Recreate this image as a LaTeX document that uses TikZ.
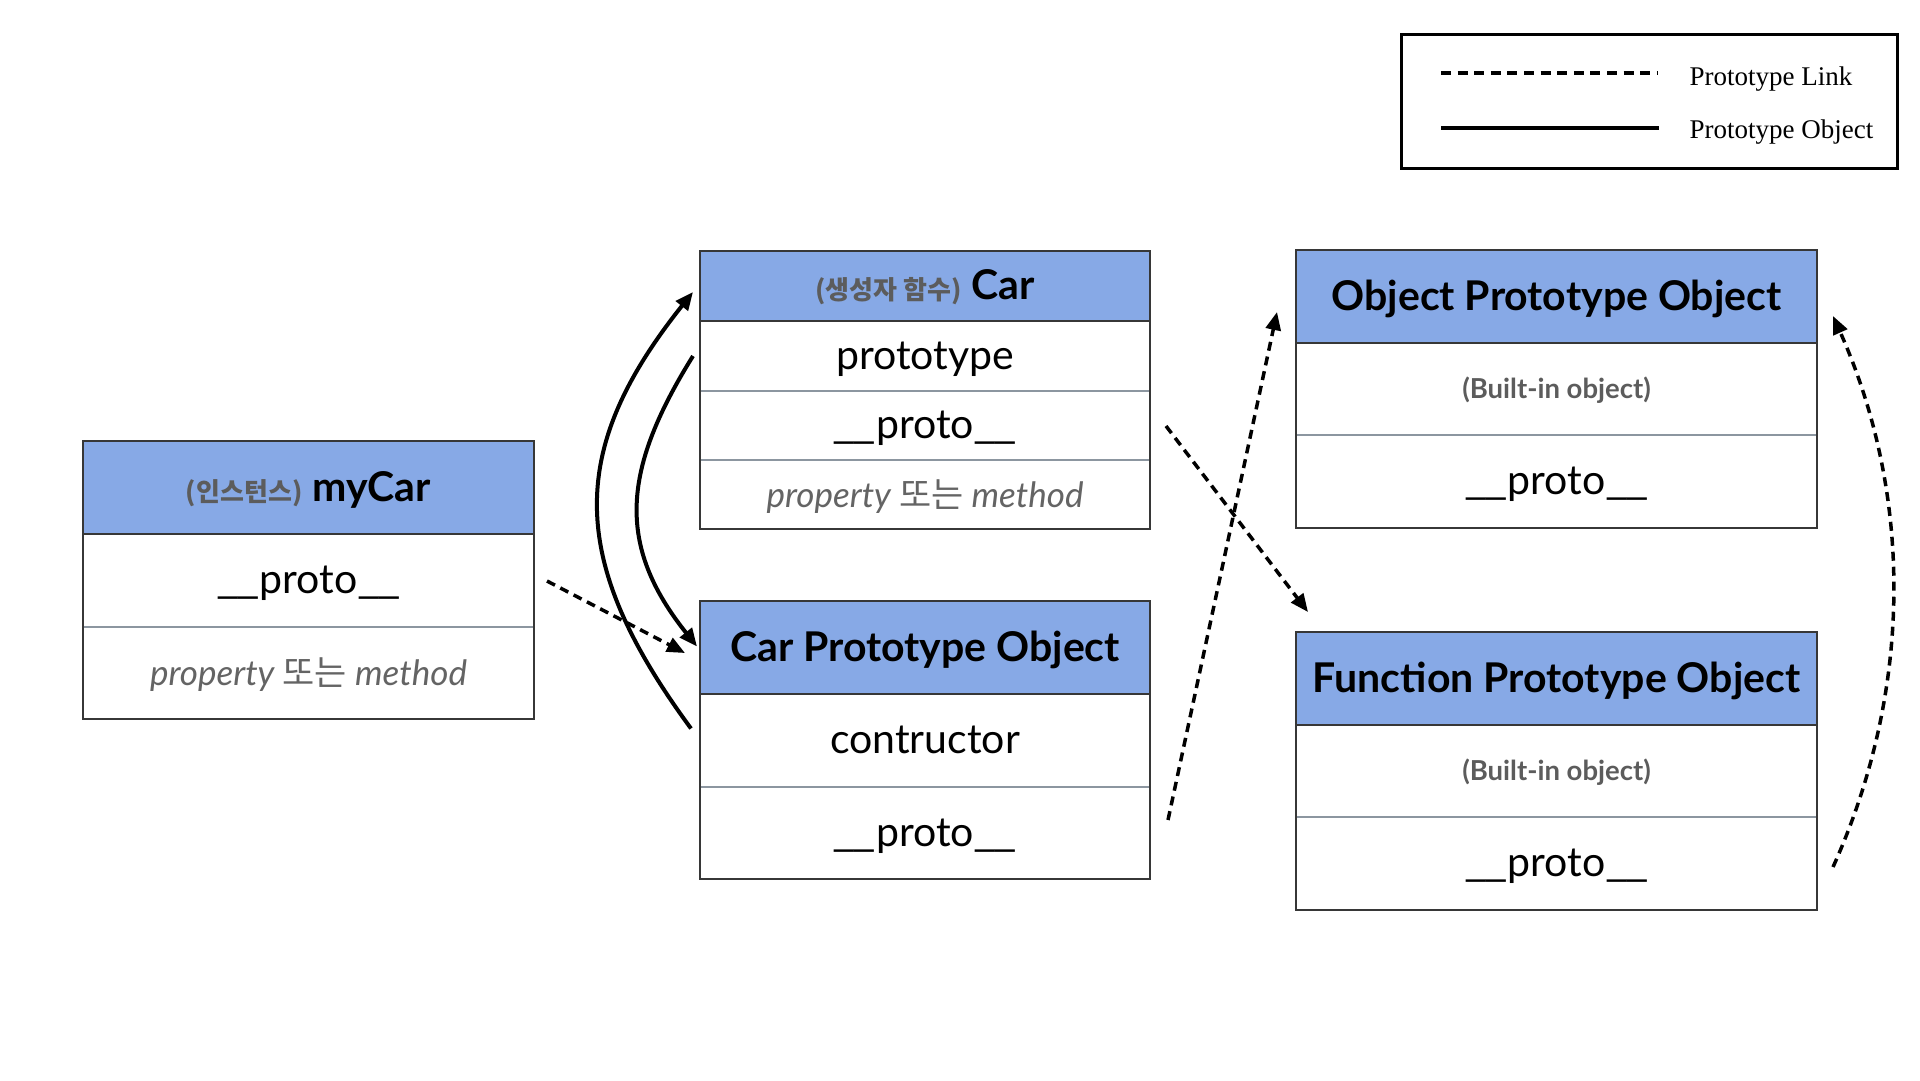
\documentclass[tikz,border=0pt]{standalone}
\usepackage{graphicx}
\usepackage{fontspec}
\setmainfont{Lato}
\newfontfamily\krfont{Noto Sans CJK KR}
\newfontfamily\lgfont{Liberation Serif}
\usetikzlibrary{arrows.meta,calc}
\definecolor{hdr}{RGB}{135,169,230}
\definecolor{txtgray}{RGB}{92,92,92}
\definecolor{methgray}{RGB}{100,100,100}
\definecolor{divgray}{RGB}{140,150,160}
\definecolor{edgec}{RGB}{55,55,55}
\newcommand\myfs[1]{\fontsize{#1}{#1}\selectfont}
\newcommand\krg[1]{{\krfont\bfseries\myfs{26}\textcolor{txtgray}{#1}}}
\newcommand\dus{\scalebox{1.25}[1]{\_\kern-3pt\_}}
\newcommand\protoword{\dus proto\dus}
\begin{document}
\begin{tikzpicture}[x=1pt,y=-1pt,
  cell/.style={draw=divgray, line width=1.5pt, fill=white, inner sep=0pt, outer sep=0pt,
    anchor=north west, minimum width=#1, text height=26.5pt, text depth=0pt, font=\myfs{41}},
  head/.style={cell=#1, fill=hdr, draw=edgec, font=\myfs{41}\bfseries, text height=27.7pt},
  meth/.style={font=\myfs{35}\itshape, text=methgray, text height=25pt},
  built/.style={font=\myfs{27.5}\bfseries, text=txtgray, text height=19.5pt},
  frame/.style={draw=edgec, line width=2pt},
  link/.style={line width=3.5pt, dash pattern=on 9pt off 6pt, -{Triangle[length=18pt,width=15pt]}},
  objlink/.style={line width=4pt, -{Triangle[length=18pt,width=15pt]}},
  legtext/.style={anchor=base west, font=\lgfont\myfs{27}}
]
\useasboundingbox[fill=white] (0,0) rectangle (1920,1080);

% ---------- myCar ----------
\node[cell=451pt, minimum height=93pt] (mc-proto) at (83,534) {\protoword};
\node[cell=451pt, minimum height=92pt, meth] (mc-meth) at (83,627) {property {\krfont 또는} method};
\node[head=451pt, minimum height=93pt] (mc-head) at (83,441) {\krg{(인스턴스)} myCar};
\draw[frame] (mc-head.north west) rectangle (mc-meth.south east);

% ---------- Car ----------
\node[cell=450pt, minimum height=70pt] (car-ptype) at (700,321) {prototype};
\node[cell=450pt, minimum height=69pt] (car-proto) at (700,391) {\protoword};
\node[cell=450pt, minimum height=69pt, meth] (car-meth) at (700,460) {property {\krfont 또는} method};
\node[head=450pt, minimum height=70pt] (car-head) at (700,251) {\krg{(생성자 함수)} Car};
\draw[frame] (car-head.north west) rectangle (car-meth.south east);

% ---------- Car Prototype Object ----------
\node[cell=450pt, minimum height=93pt] (cp-ctor) at (700,694) {contructor};
\node[cell=450pt, minimum height=92pt] (cp-proto) at (700,787) {\protoword};
\node[head=450pt, minimum height=93pt] (cp-head) at (700,601) {Car Prototype Object};
\draw[frame] (cp-head.north west) rectangle (cp-proto.south east);

% ---------- Object Prototype Object ----------
\node[cell=521pt, minimum height=92pt, built] (op-built) at (1296,343) {(Built-in object)};
\node[cell=521pt, minimum height=93pt] (op-proto) at (1296,435) {\protoword};
\node[head=521pt, minimum height=93pt] (op-head) at (1296,250) {Object Prototype Object};
\draw[frame] (op-head.north west) rectangle (op-proto.south east);

% ---------- Function Prototype Object ----------
\node[cell=521pt, minimum height=92pt, built] (fp-built) at (1296,725) {(Built-in object)};
\node[cell=521pt, minimum height=93pt] (fp-proto) at (1296,817) {\protoword};
\node[head=521pt, minimum height=93pt] (fp-head) at (1296,632) {Function Prototype Object};
\draw[frame] (fp-head.north west) rectangle (fp-proto.south east);

% ---------- connectors ----------
\draw[link] ($(mc-proto.east)+(13,0.5)$) -- ($(cp-head.west)+(-15,5.5)$);
\draw[objlink] ($(cp-ctor.west)+(-9,-12)$) .. controls (567,560) and (567,450) .. ($(car-head.west)+(-7,6)$);
\draw[objlink] ($(car-ptype.west)+(-7,0)$) .. controls (622,470) and (616,545) .. ($(cp-head.west)+(-3,-1)$);
\draw[link] ($(car-proto.east)+(16,0.5)$) -- ($(fp-head.north west)+(12,-20)$);
\draw[link] ($(cp-proto.east)+(18,-13)$) -- ($(op-head.west)+(-19,15.5)$);
\draw[link] ($(fp-proto.east)+(16,3.5)$) .. controls (1913,690) and (1913,495) .. ($(op-head.east)+(16,19.5)$);

% ---------- legend ----------
\node[draw=black, line width=3pt, minimum width=496pt, minimum height=134pt, anchor=north west, inner sep=0pt] (legend) at (1400,33) {};
\coordinate (ld1) at (1441,73);
\coordinate (ld2) at (1657,73);
\coordinate (ls1) at (1441,128);
\coordinate (ls2) at (1659,128);
\draw[line width=3.5pt, dash pattern=on 10pt off 6.6pt] (ld1) -- (ld2);
\draw[line width=4pt] (ls1) -- (ls2);
\node[legtext] (lt1) at (1686,85) {Prototype Link};
\node[legtext] (lt2) at (1686,138) {Prototype Object};
\end{tikzpicture}
\end{document}
